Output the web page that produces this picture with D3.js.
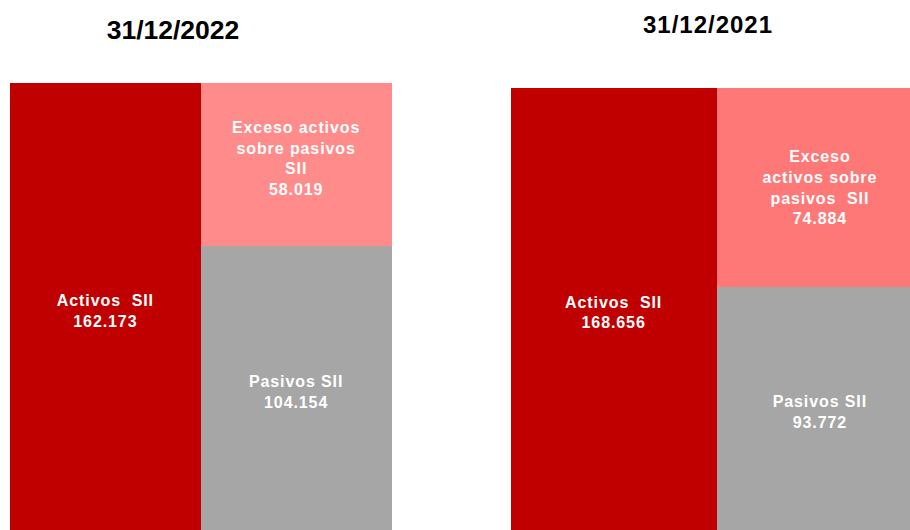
<!DOCTYPE html>
<html>
<head>
<meta charset="utf-8">
<script src="https://cdn.jsdelivr.net/npm/d3@7"></script>
<style>
  html, body { margin: 0; padding: 0; background: #fff; }
  svg { display: block; }
  text { font-family: "Liberation Sans", Arial, sans-serif; font-weight: bold; }
</style>
</head>
<body>
<svg id="chart" width="910" height="530"></svg>
<script>
// ---- data ----
const panelTitles = ["31/12/2022", "31/12/2021"];
const activosValues = [162173, 168656];
const pasivosValues = [104154, 93772];
const excesoValues = [58019, 74884];
const activosLabel = [["Activos  SII"], ["Activos  SII"]];
const pasivosLabel = [["Pasivos SII"], ["Pasivos SII"]];
const excesoLabel = [["Exceso activos", "sobre pasivos", "SII"], ["Exceso", "activos sobre", "pasivos  SII"]];

// ---- layout / style (not data) ----
const layout = [
  { xRange: [10, 391.5], yRange: [537.8, 83], titleX: 173, titleY: 39, titleSize: 26.5, titleSpacing: 0, pink: "#FF8B8B", excesoShift: -6 },
  { xRange: [510.5, 923], yRange: [536.2, 88], titleX: 708, titleY: 33, titleSize: 24, titleSpacing: 1, pink: "#FF7878", excesoShift: 0 }
];
const RED = "#C00000", GRAY = "#A6A6A6";
const LINE_H = 20.7, FONT = 16, CAP = 11.5;

const fmt = d3.formatLocale({ decimal: ",", thousands: ".", grouping: [3], currency: ["", "€"] }).format(",d");

const svg = d3.select("#chart");

panelTitles.forEach((title, i) => {
  const L = layout[i];
  const x = d3.scaleBand().domain(["activos", "derecha"]).range(L.xRange).paddingInner(0).paddingOuter(0);
  const y = d3.scaleLinear().domain([0, activosValues[i]]).range(L.yRange);
  const g = svg.append("g");

  const blocks = [
    { col: "activos", y0: 0, y1: activosValues[i], fill: RED, lines: activosLabel[i].concat([fmt(activosValues[i])]), shift: 0 },
    { col: "derecha", y0: 0, y1: pasivosValues[i], fill: GRAY, lines: pasivosLabel[i].concat([fmt(pasivosValues[i])]), shift: 0 },
    { col: "derecha", y0: pasivosValues[i], y1: pasivosValues[i] + excesoValues[i], fill: L.pink, lines: excesoLabel[i].concat([fmt(excesoValues[i])]), shift: L.excesoShift }
  ];

  g.selectAll("rect").data(blocks).join("rect")
    .attr("x", d => x(d.col))
    .attr("width", x.bandwidth())
    .attr("y", d => y(d.y1))
    .attr("height", d => y(d.y0) - y(d.y1))
    .attr("fill", d => d.fill)
    .attr("shape-rendering", "crispEdges");

  blocks.forEach(b => {
    const cx = x(b.col) + x.bandwidth() / 2;
    const cy = (y(b.y0) + y(b.y1)) / 2 + b.shift;
    const n = b.lines.length;
    const firstBase = cy - ((n - 1) * LINE_H) / 2 + CAP / 2;
    const t = g.append("text")
      .attr("text-anchor", "middle")
      .attr("fill", "#fff")
      .attr("font-size", FONT)
      .attr("letter-spacing", "0.9px");
    b.lines.forEach((ln, k) => {
      t.append("tspan")
        .attr("x", cx)
        .attr("y", firstBase + k * LINE_H)
        .attr("xml:space", "preserve")
        .style("white-space", "pre")
        .text(ln);
    });
  });

  g.append("text")
    .attr("x", L.titleX)
    .attr("y", L.titleY)
    .attr("text-anchor", "middle")
    .attr("font-size", L.titleSize)
    .attr("letter-spacing", L.titleSpacing + "px")
    .attr("fill", "#000")
    .text(title);
});
</script>
</body>
</html>
